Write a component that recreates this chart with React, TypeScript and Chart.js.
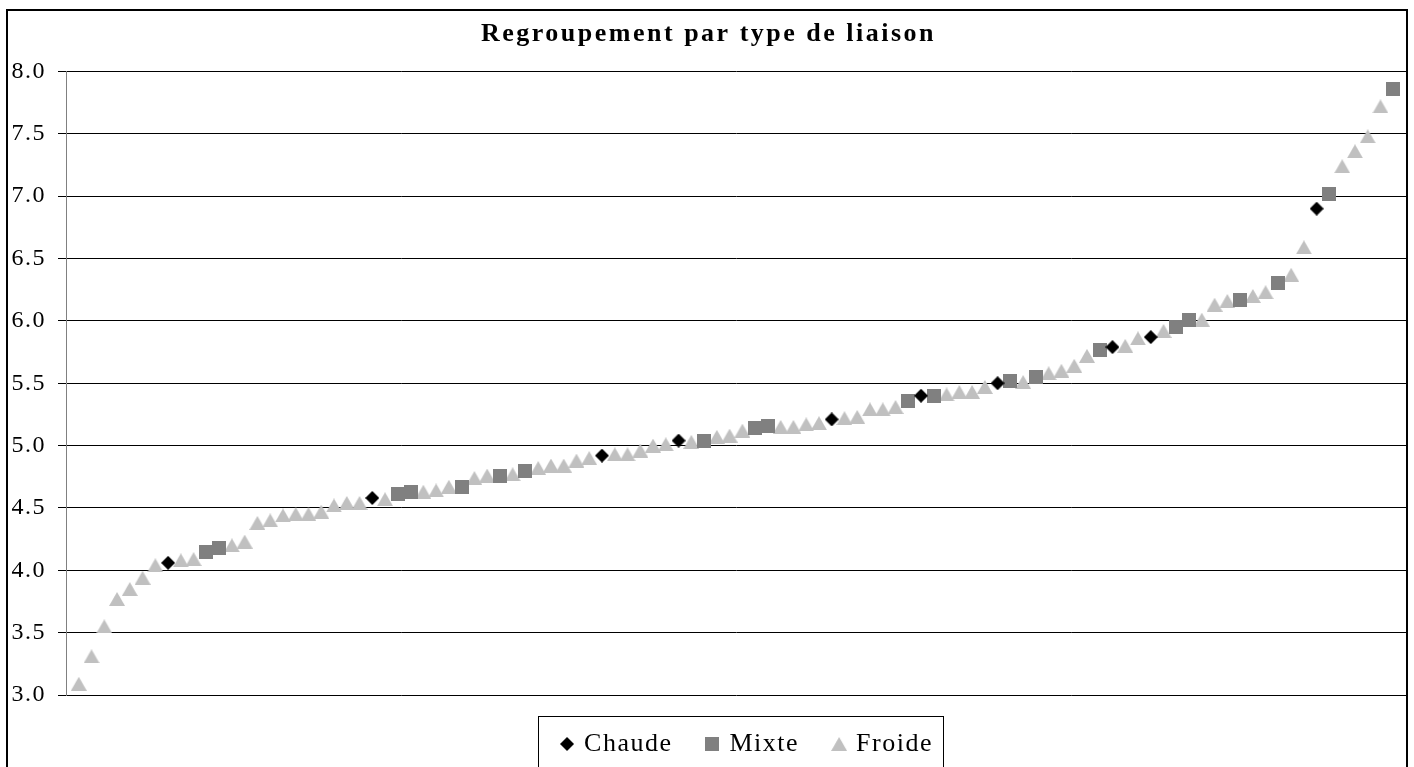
import React, { useEffect, useRef } from 'react';
import { Chart, registerables } from 'chart.js';

Chart.register(...registerables);

// ---- data (rank position on the x axis, value on the y axis) ----
const titleText = 'Regroupement par type de liaison';
const seriesNames = ['Chaude', 'Mixte', 'Froide'];

const chaudeRank = [8, 24, 42, 48, 60, 67, 73, 82, 85, 98];
const chaudeValues = [4.06, 4.58, 4.92, 5.04, 5.21, 5.4, 5.5, 5.79, 5.87, 6.9];

const mixteRank = [11, 12, 26, 27, 31, 34, 36, 50, 54, 55, 66, 68, 74, 76, 81, 87, 88, 92, 95, 99, 104];
const mixteValues = [4.15, 4.18, 4.61, 4.63, 4.67, 4.76, 4.8, 5.04, 5.14, 5.16, 5.36, 5.4, 5.52, 5.55, 5.77, 5.95, 6.01, 6.17, 6.3, 7.02, 7.86];

const froideRank = [
  1, 2, 3, 4, 5, 6, 7, 9, 10, 13, 14, 15, 16, 17, 18, 19, 20, 21, 22, 23, 25, 28, 29, 30, 32, 33, 35,
  37, 38, 39, 40, 41, 43, 44, 45, 46, 47, 49, 51, 52, 53, 56, 57, 58, 59, 61, 62, 63, 64, 65, 69, 70,
  71, 72, 75, 77, 78, 79, 80, 83, 84, 86, 89, 90, 91, 93, 94, 96, 97, 100, 101, 102, 103,
];
const froideValues = [
  3.09, 3.31, 3.55, 3.77, 3.85, 3.94, 4.04, 4.08, 4.09, 4.2, 4.23, 4.38, 4.4, 4.44, 4.45, 4.45, 4.47,
  4.52, 4.54, 4.54, 4.57, 4.63, 4.64, 4.67, 4.74, 4.76, 4.77, 4.82, 4.84, 4.84, 4.88, 4.9, 4.93, 4.93,
  4.96, 5.0, 5.01, 5.03, 5.07, 5.08, 5.12, 5.15, 5.15, 5.17, 5.18, 5.22, 5.23, 5.29, 5.29, 5.31, 5.41,
  5.43, 5.43, 5.47, 5.51, 5.58, 5.6, 5.64, 5.72, 5.8, 5.86, 5.92, 6.01, 6.13, 6.16, 6.2, 6.23, 6.37,
  6.59, 7.24, 7.36, 7.48, 7.72,
];

const yMin = 3;
const yMax = 8;
const yStep = 0.5;
const xMin = 0;
const xMax = 105;

// ---- markers ----
function makeMarker(kind: string): HTMLCanvasElement {
  const c = document.createElement('canvas');
  if (kind === 'diamond') {
    c.width = 14;
    c.height = 14;
    const ctx = c.getContext('2d')!;
    ctx.fillStyle = '#000000';
    ctx.beginPath();
    ctx.moveTo(7, 0);
    ctx.lineTo(14, 7);
    ctx.lineTo(7, 14);
    ctx.lineTo(0, 7);
    ctx.closePath();
    ctx.fill();
  } else if (kind === 'square') {
    c.width = 14;
    c.height = 14;
    const ctx = c.getContext('2d')!;
    ctx.fillStyle = '#808080';
    ctx.fillRect(0, 0, 14, 14);
  } else {
    c.width = 16;
    c.height = 14;
    const ctx = c.getContext('2d')!;
    ctx.fillStyle = '#C0C0C0';
    ctx.beginPath();
    ctx.moveTo(8, 0);
    ctx.lineTo(16, 14);
    ctx.lineTo(0, 14);
    ctx.closePath();
    ctx.fill();
  }
  return c;
}

function toPoints(xs: number[], ys: number[]) {
  return xs.map((x, i) => ({ x, y: ys[i] }));
}

const SPACING = '1.5px';

const decorPlugin = {
  id: 'decor',
  beforeUpdate(chart: any) {
    chart.ctx.letterSpacing = SPACING;
  },
  afterLayout(chart: any) {
    const lg = chart.legend;
    if (lg) {
      lg.left += 12;
      lg.right += 12;
    }
  },
  beforeDraw(chart: any) {
    const ctx = chart.ctx;
    ctx.save();
    ctx.fillStyle = '#ffffff';
    ctx.fillRect(0, 0, chart.width, chart.height);
    ctx.restore();
    ctx.letterSpacing = SPACING;
  },
  afterDraw(chart: any) {
    const ctx = chart.ctx;
    ctx.save();
    const lg = chart.legend;
    const hb = lg && lg.legendHitBoxes;
    if (hb && hb.length) {
      const l = hb[0].left - 25;
      const last = hb[hb.length - 1];
      const r = last.left + last.width + 10;
      const t = lg.top + 21;
      ctx.strokeStyle = '#000000';
      ctx.lineWidth = 1;
      ctx.strokeRect(Math.round(l) + 0.5, Math.round(t) + 0.5, Math.round(r - l), 300);
    }
    ctx.strokeStyle = '#000000';
    ctx.lineWidth = 2;
    ctx.strokeRect(7, 10, 1400, 900);
    ctx.letterSpacing = '2.5px';
    ctx.font = 'bold 26px "Liberation Serif", "Times New Roman", serif';
    ctx.fillStyle = '#000000';
    ctx.textAlign = 'center';
    ctx.textBaseline = 'alphabetic';
    ctx.fillText(titleText, 708.5, 41);
    ctx.restore();
  },
};

export default function App() {
  const ref = useRef<HTMLCanvasElement>(null);

  useEffect(() => {
    document.body.style.margin = '0';
    const canvas = ref.current!;
    Chart.defaults.font.family = '"Liberation Serif", "Times New Roman", serif';
    const chart = new Chart(canvas, {
      type: 'scatter',
      data: {
        datasets: [
          {
            label: seriesNames[0],
            data: toPoints(chaudeRank, chaudeValues),
            pointStyle: makeMarker('diamond') as any,
            pointRadius: 7,
            backgroundColor: '#000000',
            borderColor: '#000000',
          },
          {
            label: seriesNames[1],
            data: toPoints(mixteRank, mixteValues),
            pointStyle: makeMarker('square') as any,
            pointRadius: 7,
            backgroundColor: '#808080',
            borderColor: '#808080',
          },
          {
            label: seriesNames[2],
            data: toPoints(froideRank, froideValues),
            pointStyle: makeMarker('triangle') as any,
            pointRadius: 7,
            backgroundColor: '#C0C0C0',
            borderColor: '#C0C0C0',
          },
        ],
      },
      options: {
        animation: false,
        responsive: false,
        devicePixelRatio: 1,
        events: [],
        layout: { padding: { left: 7, top: 71.5, right: 6.5, bottom: 0 } },
        scales: {
          x: { type: 'linear', min: xMin, max: xMax, display: false },
          y: {
            min: yMin,
            max: yMax,
            ticks: {
              stepSize: yStep,
              padding: 12,
              color: '#000000',
              font: { size: 24 },
              callback: (v: any) => Number(v).toFixed(1),
            },
            grid: { color: '#000000', lineWidth: 1, tickLength: 8, drawTicks: true },
            border: { display: true, color: '#808080', width: 1 },
            afterFit: (s: any) => {
              s.width = 59;
            },
          },
        },
        plugins: {
          title: { display: false },
          tooltip: { enabled: false },
          legend: {
            display: true,
            position: 'bottom',
            fullSize: false,
            labels: {
              usePointStyle: true,
              pointStyleWidth: 8,
              padding: 36,
              color: '#000000',
              font: { size: 26 },
            },
          },
        },
      },
      plugins: [decorPlugin],
    } as any);
    return () => chart.destroy();
  }, []);

  return (
    <div style={{ position: 'fixed', left: 0, top: 0, width: 1414, height: 767, background: '#ffffff' }}>
      <canvas ref={ref} width={1414} height={767} style={{ display: 'block', width: 1414, height: 767 }} />
    </div>
  );
}
